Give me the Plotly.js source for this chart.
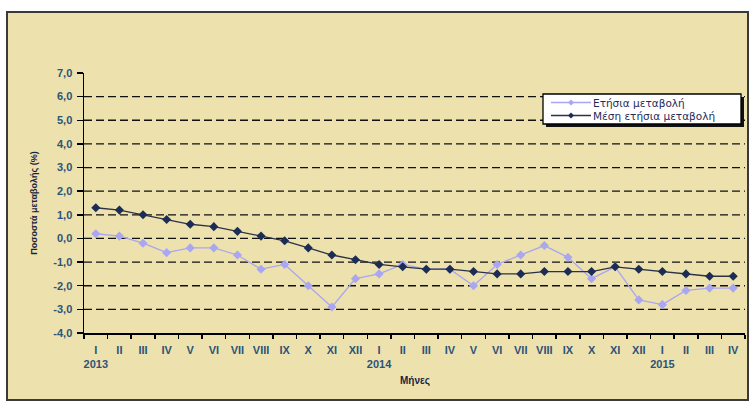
<!DOCTYPE html>
<html>
<head>
<meta charset="utf-8">
<script src="https://cdn.plot.ly/plotly-3.0.1.min.js"></script>
<style>
  html, body { margin: 0; padding: 0; background: #ffffff; }
  #chart { width: 750px; height: 420px; }
</style>
</head>
<body>
<div id="chart"></div>
<script>
// Months January 2013 – April 2015
var monthLabels = ['I','II','III','IV','V','VI','VII','VIII','IX','X','XI','XII',
                   'I','II','III','IV','V','VI','VII','VIII','IX','X','XI','XII',
                   'I','II','III','IV'];
var yearLabels = ['2013','','','','','','','','','','','',
                  '2014','','','','','','','','','','','',
                  '2015','','',''];

// Annual change (%)
var annualChange = [0.2, 0.1, -0.2, -0.6, -0.4, -0.4, -0.7, -1.3, -1.1, -2.0, -2.9, -1.7,
                    -1.5, -1.1, -1.3, -1.3, -2.0, -1.1, -0.7, -0.3, -0.8, -1.7, -1.2, -2.6,
                    -2.8, -2.2, -2.1, -2.1];
// Average annual change (%)
var meanChange = [1.3, 1.2, 1.0, 0.8, 0.6, 0.5, 0.3, 0.1, -0.1, -0.4, -0.7, -0.9,
                  -1.1, -1.2, -1.3, -1.3, -1.4, -1.5, -1.5, -1.4, -1.4, -1.4, -1.2, -1.3,
                  -1.4, -1.5, -1.6, -1.6];

var seriesNames = ['Ετήσια μεταβολή', 'Μέση ετήσια μεταβολή'];
var yTicks = [-4, -3, -2, -1, 0, 1, 2, 3, 4, 5, 6, 7];
var gridValues = [-3, -2, -1, 0, 1, 2, 3, 4, 5, 6];

var idx = monthLabels.map(function (_, i) { return i; });
var tickText = monthLabels.map(function (m, i) {
  return yearLabels[i] ? m + '<br>' + yearLabels[i] : m;
});

var tickColor = '#2c5378';
var titleColor = '#1a2440';
var font = 'Liberation Sans, Arial, sans-serif';
var annualColor = '#a9a6f2';
var meanLine = '#2b3247';
var meanMarker = '#1c2d55';

// Plot area in page pixels, used to place the frame and the legend box
var M = { l: 84, r: 5, t: 73, b: 87 }, W = 750, H = 420;
var pw = W - M.l - M.r, ph = H - M.t - M.b;
function px(x) { return (x - M.l) / pw; }
function py(y) { return (H - M.b - y) / ph; }

var traces = [
  {
    x: idx, y: annualChange, type: 'scatter', mode: 'lines+markers',
    name: seriesNames[0],
    line: { color: annualColor, width: 1.3 },
    marker: { symbol: 'diamond', size: 7, color: annualColor }
  },
  {
    x: idx, y: meanChange, type: 'scatter', mode: 'lines+markers',
    name: seriesNames[1],
    line: { color: meanLine, width: 1.3 },
    marker: { symbol: 'diamond', size: 7, color: meanMarker }
  }
];

// Dashed horizontal reference lines
var shapes = gridValues.map(function (v) {
  return {
    type: 'line', xref: 'paper', yref: 'y', x0: 0, x1: 1, y0: v, y1: v,
    layer: 'below', line: { color: '#111111', width: 1.3, dash: '8px,4px' }
  };
});

// Beige chart frame behind the plot area
shapes.unshift({
  type: 'rect', xref: 'paper', yref: 'paper',
  x0: px(7), x1: px(748), y0: py(400), y1: py(12),
  layer: 'below', fillcolor: '#ede1ae', line: { color: '#3a3a3a', width: 2 }
});

// Legend box with drop shadow
var box = { x0: 543, x1: 741, y0: 94, y1: 124 };
shapes.push({
  type: 'rect', xref: 'paper', yref: 'paper',
  x0: px(box.x0 + 3), x1: px(box.x1 + 3), y0: py(box.y1 + 3), y1: py(box.y0 + 3),
  layer: 'above', fillcolor: '#111111', line: { width: 0 }
});
shapes.push({
  type: 'rect', xref: 'paper', yref: 'paper',
  x0: px(box.x0), x1: px(box.x1), y0: py(box.y1), y1: py(box.y0),
  layer: 'above', fillcolor: '#ffffff', line: { color: '#000000', width: 1.3 }
});

var annotations = [];
var keyRows = [102.5, 115.5];
var keyStyles = [
  { line: annualColor, marker: annualColor },
  { line: meanLine, marker: meanMarker }
];
keyRows.forEach(function (ry, k) {
  shapes.push({
    type: 'line', xref: 'paper', yref: 'paper',
    x0: px(551), x1: px(591), y0: py(ry), y1: py(ry),
    layer: 'above', line: { color: keyStyles[k].line, width: 1.3 }
  });
  var cx = 571, d = 3;
  shapes.push({
    type: 'path', xref: 'paper', yref: 'paper', layer: 'above',
    path: 'M' + px(cx - d) + ',' + py(ry) + ' L' + px(cx) + ',' + py(ry - d) +
          ' L' + px(cx + d) + ',' + py(ry) + ' L' + px(cx) + ',' + py(ry + d) + ' Z',
    fillcolor: keyStyles[k].marker, line: { width: 0 }
  });
  annotations.push({
    xref: 'paper', yref: 'paper', x: px(592), y: py(ry),
    xanchor: 'left', yanchor: 'middle', showarrow: false, borderpad: 0,
    text: seriesNames[k],
    font: { family: 'DejaVu Sans, sans-serif', size: 10.5, color: '#1f2c5a' }
  });
});

// Axis title for the months
annotations.push({
  xref: 'paper', yref: 'paper', x: 0.5, y: py(381),
  xanchor: 'center', yanchor: 'middle', showarrow: false,
  text: 'Μήνες',
  font: { family: font, size: 10, color: titleColor, weight: 'bold' }
});

var layout = {
  width: W, height: H,
  margin: M,
  paper_bgcolor: '#ffffff',
  plot_bgcolor: '#ffffff',
  font: { family: font, size: 10, color: tickColor },
  showlegend: false,
  xaxis: {
    type: 'category',
    tickmode: 'array', tickvals: idx, ticktext: tickText,
    tickson: 'boundaries', tickangle: 0,
    range: [-0.5, 27.5],
    showgrid: false, zeroline: false,
    showline: true, linecolor: '#000000', linewidth: 1.5,
    ticks: 'outside', ticklen: 4, tickcolor: '#000000', tickwidth: 1.5,
    ticklabelstandoff: 6,
    tickfont: { family: font, size: 11, color: tickColor, weight: 'bold' }
  },
  yaxis: {
    range: [-4, 7],
    tickmode: 'array', tickvals: yTicks,
    ticktext: yTicks.map(function (v) { return v.toFixed(1).replace('.', ','); }),
    showgrid: false, zeroline: false,
    showline: true, linecolor: '#000000', linewidth: 1.5,
    ticks: 'outside', ticklen: 6, tickcolor: '#000000', tickwidth: 1.5,
    ticklabelstandoff: 2,
    tickfont: { family: font, size: 11, color: tickColor, weight: 'bold' },
    title: { text: 'Ποσοστά μεταβολής (%)', standoff: 14,
             font: { family: font, size: 9, color: titleColor, weight: 'bold' } }
  },
  shapes: shapes,
  annotations: annotations
};

Plotly.newPlot('chart', traces, layout, { displayModeBar: false, staticPlot: true });
</script>
</body>
</html>
